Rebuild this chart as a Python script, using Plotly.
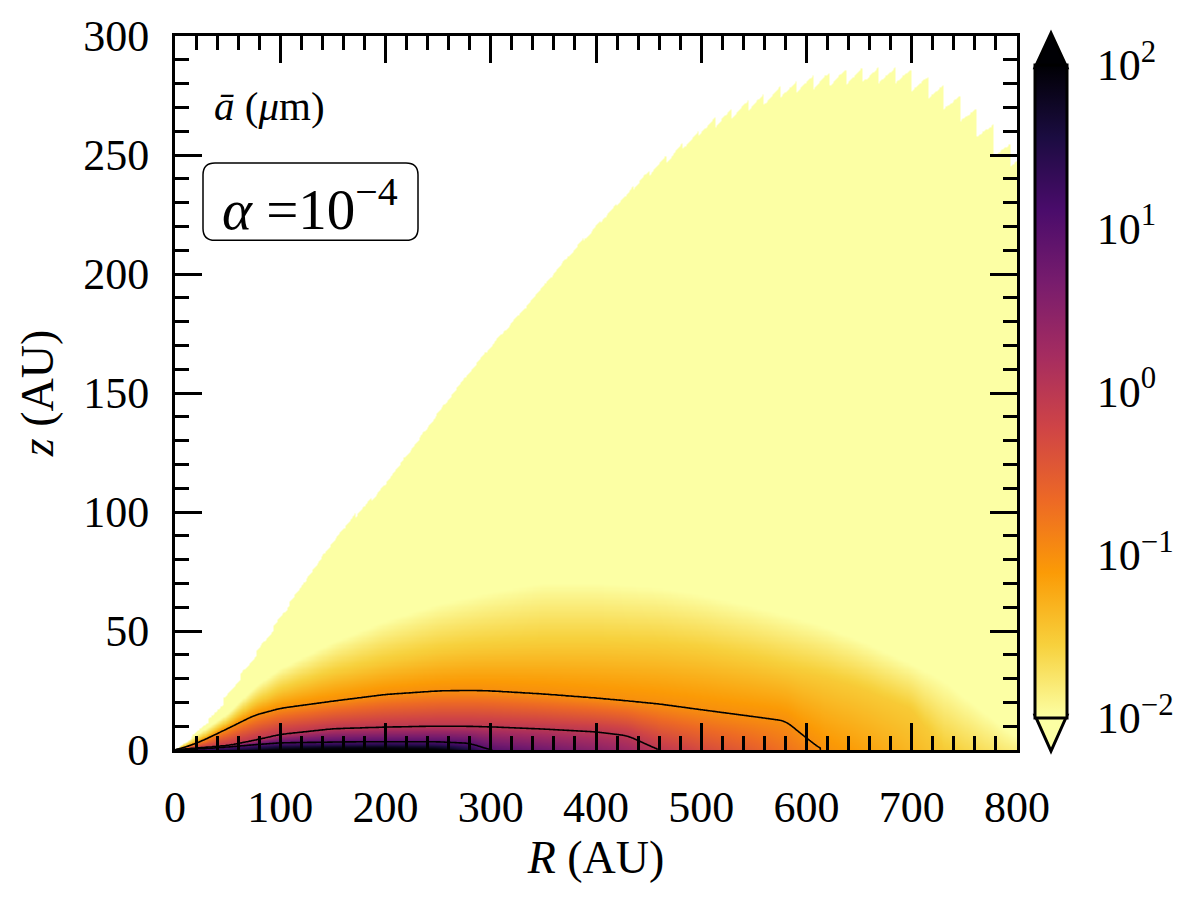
import numpy as np
import plotly.graph_objects as go

# ---------------- data ----------------
# radial nodes (AU)
R_nodes = [0, 10, 25, 50, 75, 100, 150, 200, 250, 280, 300, 350, 400, 430, 460,
           500, 550, 580, 600, 615, 650, 700, 730, 750, 800]
# log10 of mean grain size at the midplane
mid_log_a = [1.0, 1.1, 1.3, 1.55, 1.85, 2.1, 2.3, 2.3, 2.15, 1.6, 0.98, 0.75, 0.5, 0.3, -0.02,
             -0.3, -0.55, -0.75, -0.88, -1.02, -1.15, -1.35, -1.5, -1.6, -1.85]
# heights (AU) where log10(a) reaches given levels (0 = level not present)
h_level_p1 = [0, 0.2, 0.6, 1.3, 2.2, 3.0, 3.3, 3.5, 3.4, 2.8, 0, 0, 0, 0, 0,
              0, 0, 0, 0, 0, 0, 0, 0, 0, 0]
h_level_0 = [0, 0.4, 0.9, 1.8, 4.0, 6.5, 8.9, 9.6, 10.0, 9.9, 9.7, 8.8, 7.6, 6.0, 0,
             0, 0, 0, 0, 0, 0, 0, 0, 0, 0]
h_level_m1 = [0, 1.2, 3.7, 9.0, 14.5, 17.5, 20.5, 23.3, 24.8, 25.0, 24.8, 23.5, 21.8, 20.6, 19.3,
              16.9, 14.0, 12.2, 5.0, 0, 0, 0, 0, 0, 0]
h_level_m15 = [0, 2.0, 5.0, 11.5, 19.5, 25, 32, 37, 41, 42.5, 43, 44, 44, 43.5, 43,
               41, 37, 34, 32, 30.5, 26, 17, 0, 0, 0]
h_level_m2 = [0, 3.0, 7.5, 15, 26, 34, 45, 54, 61, 64, 66, 70, 70, 69, 68,
              65, 60, 56.5, 54, 52, 46, 36, 29, 22, 5]
levels = [1.0, 0.0, -1.0, -1.5, -2.0]
level_heights = [h_level_p1, h_level_0, h_level_m1, h_level_m15, h_level_m2]
top_log_a = -2.6

# upper edge of the computed domain (tips of the jagged edge)
R_edge = [0, 14, 43, 81, 122, 166, 204, 233, 273, 304, 344, 382, 420, 458, 492,
          513, 545, 576, 606, 637, 668, 699, 738, 762, 785, 800]
z_edge = [0, 4, 16.7, 41.7, 69.5, 97, 114, 131, 155, 172, 192, 212, 230, 247, 258,
          266, 273, 279, 283.6, 286, 287, 286.4, 278, 269.7, 259.4, 250]
edge_cell_dR = 15.55   # radial cell size of the model grid (gives the jagged edge)

contour_levels = [-1, 0, 1]
cbar_tickvals = [-2, -1, 0, 1, 2]
cbar_ticktext = ["10<sup>−2</sup>", "10<sup>−1</sup>", "10<sup>0</sup>",
                 "10<sup>1</sup>", "10<sup>2</sup>"]
x_ticks = [0, 100, 200, 300, 400, 500, 600, 700, 800]
y_ticks = [0, 50, 100, 150, 200, 250, 300]

# ---------------- build field ----------------
R_grid = np.arange(0, 801, 1.0)
z_grid = np.concatenate([np.arange(0, 30, 0.25), np.arange(30, 300.25, 0.5)])
Rn = np.array(R_nodes, float)


def smooth(y, w=13):
    k = np.ones(w) / w
    yp = np.pad(y, w // 2, mode="edge")
    return np.convolve(yp, k, mode="valid")


mid_f = smooth(np.interp(R_grid, Rn, mid_log_a))
h_f = [smooth(np.interp(R_grid, Rn, hl)) for hl in level_heights]

k_cell = np.floor(R_grid / edge_cell_dR)
r_next = (k_cell + 1) * edge_cell_dR
ztop_f = np.interp(r_next, R_edge, z_edge) * R_grid / r_next

field = np.full((len(z_grid), len(R_grid)), np.nan)
for j in range(len(R_grid)):
    ztop = ztop_f[j]
    mm = mid_f[j]
    zs, vs = [0.0], [mm]
    for L, hl in zip(levels, h_f):
        h = hl[j]
        if mm > L and h > zs[-1] and h < ztop:
            zs.append(h)
            vs.append(L)
    if ztop > zs[-1]:
        zs.append(ztop)
        vs.append(min(top_log_a, vs[-1]))
    col = np.interp(z_grid, zs, vs)
    col[z_grid > ztop] = np.nan
    if ztop <= 0:
        col[:] = np.nan
    field[:, j] = col

# contour copy without gaps (only levels -1..1 are traced, far from the edge)
zmask = z_grid <= 40
field_c = np.where(np.isnan(field), -3.0, field)[zmask, :]

FONT = "Liberation Serif"
cmap = "Inferno_r"

fig = go.Figure()
fig.add_trace(go.Heatmap(
    x=R_grid, y=z_grid, z=field, colorscale=cmap, zmin=-2, zmax=2,
    hoverinfo="skip",
    colorbar=dict(
        x=(1035 - 175) / 842, xanchor="left", xpad=0,
        y=(750 - 388.5) / 720, yanchor="middle", ypad=0,
        thickness=32, thicknessmode="pixels",
        len=653, lenmode="pixels",
        outlinewidth=3, outlinecolor="black",
        tickvals=cbar_tickvals, ticktext=cbar_ticktext,
        ticks="outside", ticklen=20, tickcolor="rgba(0,0,0,0)",
        tickfont=dict(family=FONT, size=44, color="black"),
    ),
))
fig.add_trace(go.Contour(
    x=R_grid, y=z_grid[zmask], z=field_c, showscale=False, hoverinfo="skip",
    autocontour=False,
    contours=dict(coloring="none", start=contour_levels[0], end=contour_levels[-1], size=1),
    line=dict(color="black", width=1.6),
))


def px(x):
    return (x - 175) / 842


def py(y):
    return (750 - y) / 720


shapes = []
# colorbar extension triangles
shapes.append(dict(type="path", xref="paper", yref="paper",
                   path=f"M {px(1035)},{py(62)} L {px(1051)},{py(27)} L {px(1067)},{py(62)} Z",
                   fillcolor="#000004", line=dict(color="black", width=3)))
shapes.append(dict(type="path", xref="paper", yref="paper",
                   path=f"M {px(1035)},{py(715)} L {px(1051)},{py(751)} L {px(1067)},{py(715)} Z",
                   fillcolor="#fcffa4", line=dict(color="black", width=3)))
# contour level marks on colorbar
for L in contour_levels:
    yy = 715 - (L + 2) * (653 / 4)
    shapes.append(dict(type="line", xref="paper", yref="paper",
                       x0=px(1036), x1=px(1066), y0=py(yy), y1=py(yy),
                       line=dict(color="black", width=1.5)))
# rounded box around alpha label
x0b, x1b, y0b, y1b, r = 203, 418, 158, 236, 12
pth = (f"M {px(x0b + r)},{py(y0b)} L {px(x1b - r)},{py(y0b)} "
       f"Q {px(x1b)},{py(y0b)} {px(x1b)},{py(y0b + r)} L {px(x1b)},{py(y1b - r)} "
       f"Q {px(x1b)},{py(y1b)} {px(x1b - r)},{py(y1b)} L {px(x0b + r)},{py(y1b)} "
       f"Q {px(x0b)},{py(y1b)} {px(x0b)},{py(y1b - r)} L {px(x0b)},{py(y0b + r)} "
       f"Q {px(x0b)},{py(y0b)} {px(x0b + r)},{py(y0b)} Z")
shapes.append(dict(type="path", xref="paper", yref="paper", path=pth,
                   fillcolor="white", line=dict(color="black", width=1.5)))

annotations = [
    dict(xref="paper", yref="paper", x=px(212), y=py(101), xanchor="left", yanchor="middle",
         text="<i>ā</i> (<i>μ</i>m)", showarrow=False,
         font=dict(family=FONT, size=41, color="black")),
    dict(xref="paper", yref="paper", x=px(310), y=py(200), xanchor="center", yanchor="middle",
         text="<i>α</i> =10<sup>−4</sup>", showarrow=False,
         font=dict(family=FONT, size=57, color="black")),
]

axis_common = dict(
    showline=True, linewidth=3, linecolor="black", mirror="allticks",
    ticks="inside", ticklen=27, tickwidth=3, tickcolor="black",
    showgrid=False, zeroline=False,
    tickfont=dict(family=FONT, size=44, color="black"),
)
fig.update_layout(
    width=1200, height=900,
    margin=dict(l=175, r=183, t=30, b=150),
    paper_bgcolor="white", plot_bgcolor="white",
    xaxis=dict(range=[0, 800], tickvals=x_ticks, ticklabelstandoff=16,
               minor=dict(ticks="inside", ticklen=14, tickwidth=2.5, dtick=20, tickcolor="black"),
               title=dict(text="<i>R</i> (AU)", font=dict(family=FONT, size=46, color="black"),
                          standoff=8),
               **axis_common),
    yaxis=dict(range=[0, 300], tickvals=y_ticks, ticklabelstandoff=14,
               minor=dict(ticks="inside", ticklen=14, tickwidth=2.5, dtick=10, tickcolor="black"),
               title=dict(text="<i>z</i> (AU)", font=dict(family=FONT, size=46, color="black"),
                          standoff=16),
               **axis_common),
    shapes=shapes, annotations=annotations,
    font=dict(family=FONT, color="black"),
)
fig.write_html("out.html")
